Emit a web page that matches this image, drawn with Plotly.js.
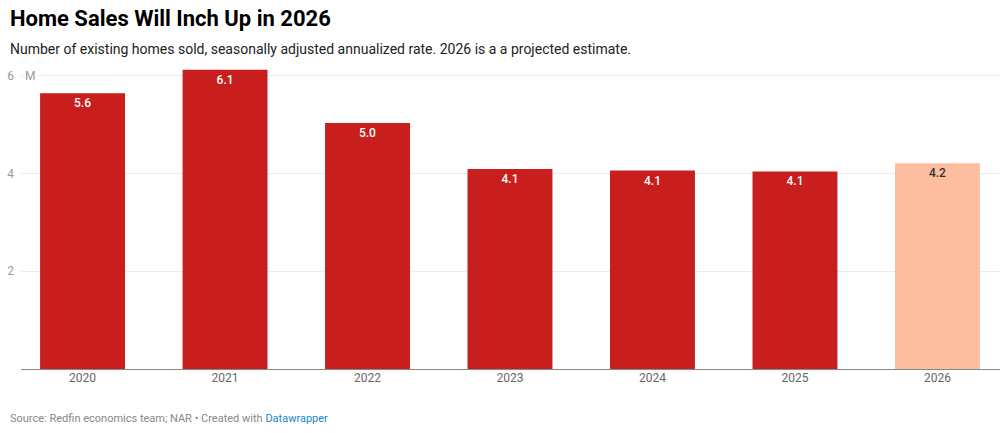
<!DOCTYPE html>
<html>
<head>
<meta charset="utf-8">
<script src="https://cdn.plot.ly/plotly-3.0.1.min.js"></script>
<style>
html,body{margin:0;padding:0;background:#fff;}
#chart{width:1001px;height:433px;}
</style>
</head>
<body>
<div id="chart"></div>
<script>
const years = ["2020", "2021", "2022", "2023", "2024", "2025", "2026"];
const sales = [5.64, 6.12, 5.03, 4.09, 4.06, 4.04, 4.21];
const labels = ["5.6", "6.1", "5.0", "4.1", "4.1", "4.1", "4.2"];
const barColors = ["#c81e1e", "#c81e1e", "#c81e1e", "#c81e1e", "#c81e1e", "#c81e1e", "#fdbd9f"];
const labelColors = ["#ffffff", "#ffffff", "#ffffff", "#ffffff", "#ffffff", "#ffffff", "#333333"];
const yTicks = [2, 4, 6];

const W = 1001, H = 433;
const mL = 21, mR = 1, mT = 61, mB = 64;
const plotW = W - mL - mR, plotH = H - mT - mB;
const px = x => (x - mL) / plotW;
const py = y => (H - mB - y) / plotH;

const trace = {
  type: "bar",
  x: years,
  y: sales,
  text: labels,
  texttemplate: "%{text}",
  textposition: "inside",
  insidetextanchor: "end",
  constraintext: "none",
  textangle: 0,
  textfont: {family: "Roboto", size: 12, color: labelColors, weight: 500},
  marker: {color: barColors, line: {width: 0}},
  hoverinfo: "skip",
  cliponaxis: false
};

const layout = {
  width: W, height: H,
  margin: {l: mL, r: mR, t: mT, b: mB, pad: 0},
  paper_bgcolor: "#ffffff",
  plot_bgcolor: "#ffffff",
  bargap: 0.404,
  showlegend: false,
  font: {family: "Roboto", color: "#333"},
  xaxis: {
    type: "category",
    range: [-0.432, 6.439],
    showgrid: false,
    zeroline: false,
    showline: false,
    ticks: "",
    tickfont: {family: "Roboto", size: 12, color: "#666"},
    fixedrange: true
  },
  yaxis: {
    range: [0, 6.3],
    tickvals: yTicks,
    ticktext: yTicks.map(String),
    showgrid: true,
    gridcolor: "#ececec",
    gridwidth: 1,
    zeroline: true,
    zerolinecolor: "#888888",
    zerolinewidth: 1,
    showline: false,
    ticks: "",
    ticklabelstandoff: 6,
    tickfont: {family: "Roboto", size: 12, color: "#999"},
    fixedrange: true
  },
  annotations: [
    {
      xref: "paper", yref: "paper",
      x: px(8), y: py(18.5),
      xanchor: "left", yanchor: "middle",
      text: "<b>Home Sales Will Inch Up in 2026</b>",
      showarrow: false,
      font: {family: "Roboto", size: 22, color: "#000"}
    },
    {
      xref: "paper", yref: "paper",
      x: px(8), y: py(48.5),
      xanchor: "left", yanchor: "middle",
      text: "Number of existing homes sold, seasonally adjusted annualized rate. 2026 is a a projected estimate.",
      showarrow: false,
      font: {family: "Roboto", size: 14, color: "#222"}
    },
    {
      xref: "paper", yref: "y",
      x: px(23), y: 6,
      xanchor: "left", yanchor: "middle",
      text: "M",
      showarrow: false,
      bgcolor: "#ffffff",
      borderpad: 1,
      font: {family: "Roboto", size: 12, color: "#999"}
    },
    {
      xref: "paper", yref: "paper",
      x: px(8), y: py(418),
      xanchor: "left", yanchor: "middle",
      text: "Source: Redfin economics team; NAR • Created with <span style=\"color:#1a85c8\">Datawrapper</span>",
      showarrow: false,
      font: {family: "Roboto", size: 11, color: "#888"}
    }
  ]
};

Plotly.newPlot("chart", [trace], layout, {displayModeBar: false, staticPlot: true});
</script>
</body>
</html>
